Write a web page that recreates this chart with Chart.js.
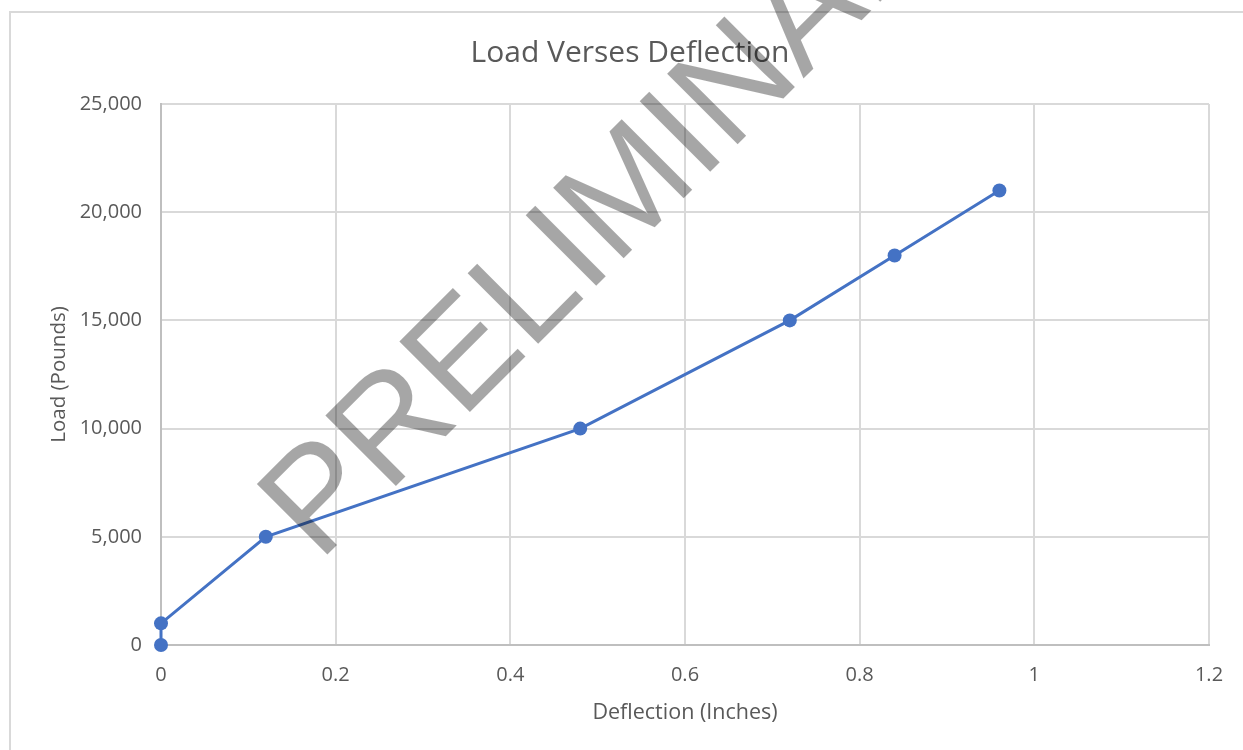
<!DOCTYPE html>
<html>
<head>
<meta charset="utf-8">
<title>Load Verses Deflection</title>
<script src="https://cdn.jsdelivr.net/npm/chart.js@4.4.1/dist/chart.umd.min.js"></script>
<style>
  html, body { margin: 0; padding: 0; background: #ffffff; overflow: hidden; width: 1243px; height: 750px; }
  #frame { position: absolute; left: 9px; top: 11px; width: 1260px; height: 770px; border: 2px solid #d9d9d9; box-sizing: border-box; }
  #wrap { position: absolute; left: 0; top: 0; width: 1243px; height: 750px; }
</style>
</head>
<body>
<div id="frame"></div>
<div id="wrap"><canvas id="chart" width="1243" height="750"></canvas></div>
<script>
// Text
const chartTitle = 'Load Verses Deflection';
const xAxisTitle = 'Deflection (Inches)';
const yAxisTitle = 'Load (Pounds)';
const stampText = 'PRELIMINARY';

// Measured test data
const deflection = [0, 0, 0.12, 0.48, 0.72, 0.84, 0.96];
const load = [0, 1000, 5000, 10000, 15000, 18000, 21000];

// Axis ticks
const xTicks = [0, 0.2, 0.4, 0.6, 0.8, 1, 1.2];
const yTicks = [0, 5000, 10000, 15000, 20000, 25000];

const FONT = '"Open Sans", "Noto Sans", sans-serif';
const TEXT = '#595959';
const GRID = '#d9d9d9';
const AXIS = '#bfbfbf';
const BLUE = '#4472c4';

const points = deflection.map((x, i) => ({ x: x, y: load[i] }));

// Diagonal "PRELIMINARY" stamp drawn over the finished chart
const stampPlugin = {
  id: 'stamp',
  afterDraw(chart) {
    const ctx = chart.ctx;
    ctx.save();
    ctx.translate(319, 563);
    ctx.rotate(-Math.PI / 4);
    ctx.font = '145px "Liberation Sans", Arial, sans-serif';
    ctx.fillStyle = 'rgba(0,0,0,0.35)';
    ctx.textAlign = 'left';
    ctx.textBaseline = 'alphabetic';
    ctx.fillText(stampText, 0, 0);
    ctx.restore();
  }
};

new Chart(document.getElementById('chart'), {
  type: 'scatter',
  data: {
    datasets: [{
      label: 'Load',
      data: points,
      showLine: true,
      clip: false,
      borderColor: BLUE,
      backgroundColor: BLUE,
      borderWidth: 3,
      pointRadius: 7,
      pointHoverRadius: 7,
      pointBorderWidth: 0,
      pointBackgroundColor: BLUE,
      tension: 0
    }]
  },
  options: {
    responsive: false,
    animation: false,
    devicePixelRatio: 1,
    layout: { padding: { left: 17, right: 0, top: 0, bottom: 0 } },
    plugins: {
      legend: { display: false },
      tooltip: { enabled: false },
      title: {
        display: true,
        text: chartTitle,
        color: TEXT,
        font: { family: FONT, size: 30, weight: 'normal', lineHeight: 1.2 },
        padding: { top: 35, bottom: 33 }
      }
    },
    scales: {
      x: {
        type: 'linear',
        min: 0,
        max: 1.2,
        afterBuildTicks: s => { s.ticks = xTicks.map(v => ({ value: v })); },
        afterFit: s => { s.height = 105; },
        ticks: {
          color: TEXT,
          font: { family: FONT, size: 20 },
          padding: 18,
          maxRotation: 0,
          callback: v => String(Number(v.toFixed(2)))
        },
        grid: { color: GRID, lineWidth: 2, drawTicks: false },
        border: { color: AXIS, width: 2 },
        title: {
          display: true,
          text: xAxisTitle,
          color: TEXT,
          font: { family: FONT, size: 21.5, lineHeight: 1.2 },
          padding: { top: 0, bottom: 24 }
        }
      },
      y: {
        type: 'linear',
        min: 0,
        max: 25000,
        afterBuildTicks: s => { s.ticks = yTicks.map(v => ({ value: v })); },
        afterFit: s => { s.width = 144; },
        ticks: {
          color: TEXT,
          font: { family: FONT, size: 20 },
          padding: 19,
          callback: v => v.toLocaleString('en-US')
        },
        grid: { color: GRID, lineWidth: 2, drawTicks: false },
        border: { color: AXIS, width: 2 },
        title: {
          display: true,
          text: yAxisTitle,
          color: TEXT,
          font: { family: FONT, size: 20.5, lineHeight: 1.2 },
          padding: { top: 30, bottom: 0 }
        }
      },
      // empty right-hand margin keeping the plot clear of the frame edge
      margin: {
        type: 'linear',
        position: 'right',
        display: true,
        afterFit: s => { s.width = 34; },
        ticks: { display: false },
        grid: { display: false, drawTicks: false },
        border: { display: false }
      }
    }
  },
  plugins: [stampPlugin]
});
</script>
</body>
</html>
